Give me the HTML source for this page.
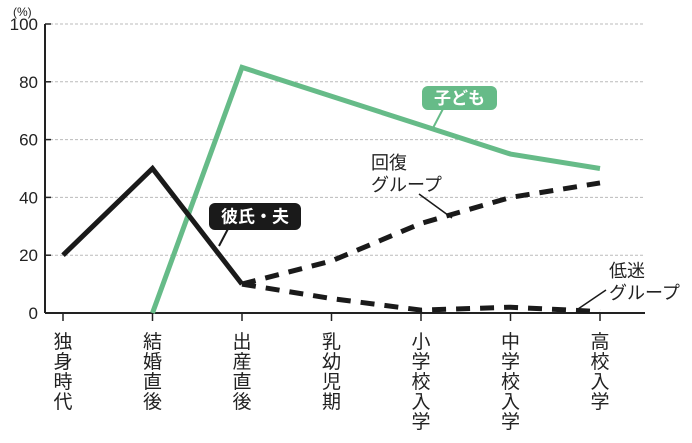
<!DOCTYPE html>
<html><head><meta charset="utf-8"><style>
body{margin:0;background:#fff}
svg{display:block;font-family:"Liberation Sans","Noto Sans CJK JP",sans-serif}
</style></head><body>
<svg id="c" width="692" height="443"></svg>
<script>
const categories=["独身時代","結婚直後","出産直後","乳幼児期","小学校入学","中学校入学","高校入学"];
const yTicks=[0,20,40,60,80,100];
const partner=[20,50,10];
const child=[null,0,85,75,65,55,50];
const recovery=[null,null,10,18,31,40,45];
const slump=[null,null,10,5,1,2,0.5];
const NS="http://www.w3.org/2000/svg";
const svg=document.getElementById('c');
const x0=63,dx=89.5,yb=313,yt=24;
const X=i=>x0+i*dx;
const Y=v=>yb-(v/100)*(yb-yt);
function mk(t,a,p){const e=document.createElementNS(NS,t);for(const k in a)e.setAttribute(k,a[k]);(p||svg).appendChild(e);return e;}
yTicks.forEach(v=>{
 if(v>0){const g=mk('line',{x1:45,x2:645,y1:Y(v),y2:Y(v),stroke:'#bbb','stroke-width':1,'stroke-dasharray':'3,2'});
 
 }
 const t=mk('text',{x:38,y:Y(v)+6,'text-anchor':'end','font-size':17,fill:'#222'});t.textContent=v;
 
 
 const tk=mk('line',{x1:45,x2:51,y1:Y(v),y2:Y(v),stroke:'#222','stroke-width':1.5});
});
const u=mk('text',{x:13,y:16,'font-size':12,fill:'#222'});u.textContent='(%)';


mk('line',{x1:45,x2:45,y1:Y(100),y2:yb,stroke:'#222','stroke-width':2});
const xa=mk('line',{x1:45,x2:645,y1:yb,y2:yb,stroke:'#222','stroke-width':2});


categories.forEach((c,i)=>{
 mk('line',{x1:X(i),x2:X(i),y1:yb,y2:yb+8,stroke:'#222','stroke-width':1.5});
 [...c].forEach((ch,j)=>{const t=mk('text',{x:X(i),y:348+j*20,'text-anchor':'middle','font-size':19,fill:'#222'});t.textContent=ch;
 
 });
});
function series(arr,style,name){
 const pts=[];arr.forEach((v,i)=>{if(v!==null)pts.push(X(i)+','+Y(v));});
 const p=mk('polyline',Object.assign({points:pts.join(' '),fill:'none'},style));
 
 
}
series(recovery,{stroke:'#1a1a1a','stroke-width':5,'stroke-dasharray':'14,10'},'recovery-line');
series(slump,{stroke:'#1a1a1a','stroke-width':5,'stroke-dasharray':'14,10'},'slump-line');
series(child,{stroke:'#66bb88','stroke-width':5,'stroke-linejoin':'miter'},'child-line');
series(partner,{stroke:'#1a1a1a','stroke-width':5,'stroke-linejoin':'miter'},'partner-line');
function box(x,y,w,h,fill,txt,name,px,py,tx,ty){
 mk('line',{x1:px,y1:py,x2:tx,y2:ty,stroke:fill,'stroke-width':2});
 const r=mk('rect',{x,y,width:w,height:h,rx:6,fill});
 const t=mk('text',{x:x+w/2,y:y+h/2+6,'text-anchor':'middle','font-size':17,'font-weight':'bold',fill:'#fff'});t.textContent=txt;
 
 
}
box(209,203,92,27,'#1a1a1a','彼氏・夫','partner-label',230,225,219,246);
box(422,86,75,24,'#66bb88','子ども','child-label',445,105,433,128);
function lbl(x,y,a,b,name,lx1,ly1,lx2,ly2){
 mk('line',{x1:lx1,y1:ly1,x2:lx2,y2:ly2,stroke:'#1a1a1a','stroke-width':1.5});
 [a,b].forEach((s,j)=>{const t=mk('text',{x,y:y+j*22,'font-size':18,fill:'#222'});t.textContent=s;
 
 });
}
lbl(371,169,'回復','グループ','recovery-label',419,194,452,218);
lbl(609,277,'低迷','グループ','slump-label',606,290,578,309);
</script>
</body></html>
